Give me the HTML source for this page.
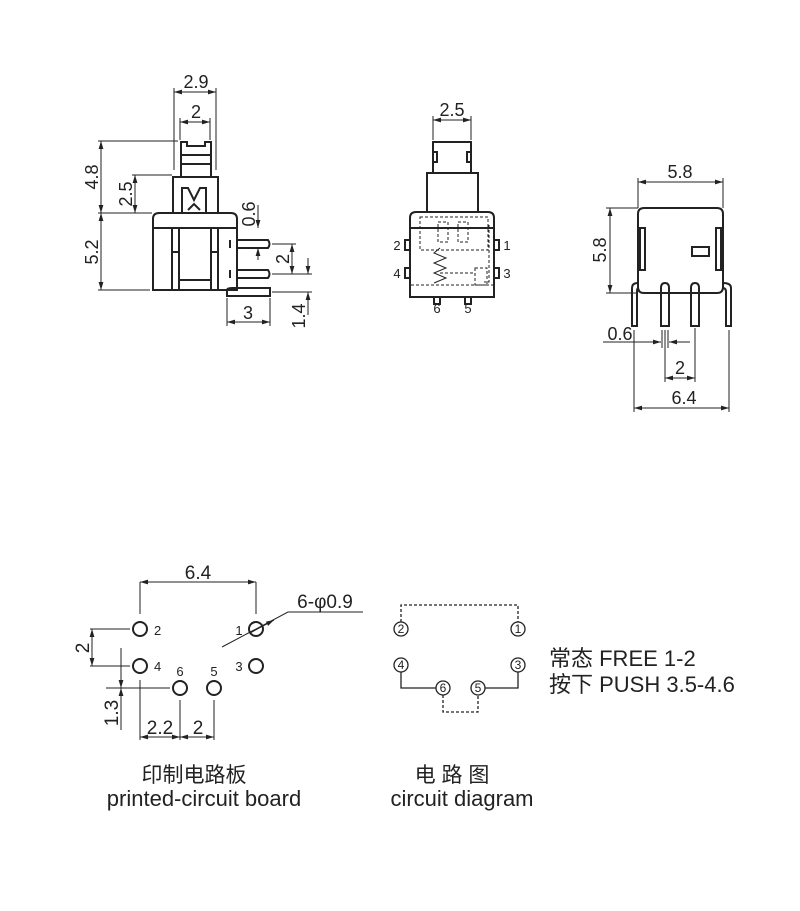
<!DOCTYPE html>
<html><head><meta charset="utf-8"><style>
html,body{margin:0;padding:0;background:#fff;}
svg{display:block}
text{font-family:"Liberation Sans","Noto Sans CJK SC",sans-serif;fill:#222}
</style></head><body>
<svg width="800" height="911" viewBox="0 0 800 911" xmlns="http://www.w3.org/2000/svg">
<defs>
<marker id="a" viewBox="0 0 10 6" refX="10" refY="3" markerWidth="8" markerHeight="5" orient="auto-start-reverse"><path d="M0,0L10,3L0,6z" fill="#222"/></marker>
</defs>
<g stroke="#222" fill="none">
<g stroke-width="2">
<path d="M181,177 V142 H187 V146 H205 V142 H211 V177"/>
<line x1="181" y1="155" x2="211" y2="155"/><line x1="181" y1="164" x2="211" y2="164"/>
<rect x="173" y="177" width="45" height="36"/>
<path d="M182,213 V188 H188 L194,200 L200,188 H206 V213"/>
<path d="M188,210 L194,204 L200,210"/>
<path d="M153,290 V219 Q153,213 159,213 H231 Q237,213 237,219 V290 Z"/>
<line x1="153" y1="228" x2="237" y2="228"/>
<path d="M172,228 V290 M179,228 V290 M211,228 V290 M218,228 V290 M179,280 H211 M172,252 H179 M211,252 H218"/>
<path d="M237,240 H268 Q271,244 268,248 H237 M230,240 V248"/>
<path d="M237,270 H268 Q271,274 268,278 H237 M230,270 V278"/>
<path d="M227,296 V290 Q227,288 232,288 H270 V296 Z"/>
</g>
<g stroke-width="1">
<line x1="174" y1="88" x2="174" y2="170"/><line x1="216" y1="88" x2="216" y2="170"/>
<line x1="174" y1="92" x2="216" y2="92" marker-start="url(#a)" marker-end="url(#a)"/>
<line x1="180" y1="118" x2="180" y2="140"/><line x1="210" y1="118" x2="210" y2="140"/>
<line x1="180" y1="122" x2="210" y2="122" marker-start="url(#a)" marker-end="url(#a)"/>
<line x1="98" y1="141" x2="178" y2="141"/><line x1="98" y1="213" x2="152" y2="213"/><line x1="98" y1="290" x2="150" y2="290"/>
<line x1="101" y1="141" x2="101" y2="213" marker-start="url(#a)" marker-end="url(#a)"/>
<line x1="101" y1="213" x2="101" y2="290" marker-start="url(#a)" marker-end="url(#a)"/>
<line x1="132" y1="175" x2="172" y2="175"/>
<line x1="135" y1="175" x2="135" y2="213" marker-start="url(#a)" marker-end="url(#a)"/>
<line x1="258" y1="205" x2="258" y2="228" marker-end="url(#a)"/>
<line x1="258" y1="260" x2="258" y2="248" marker-end="url(#a)"/>
<line x1="272" y1="244" x2="296" y2="244"/><line x1="272" y1="274" x2="312" y2="274"/><line x1="272" y1="292" x2="312" y2="292"/>
<line x1="292" y1="244" x2="292" y2="274" marker-start="url(#a)" marker-end="url(#a)"/>
<line x1="308" y1="258" x2="308" y2="274" marker-end="url(#a)"/>
<line x1="308" y1="315" x2="308" y2="292" marker-end="url(#a)"/>
<line x1="227" y1="298" x2="227" y2="326"/><line x1="270" y1="298" x2="270" y2="326"/>
<line x1="227" y1="322" x2="270" y2="322" marker-start="url(#a)" marker-end="url(#a)"/>
</g>
<g stroke-width="2">
<path d="M433,173 V142 H471 V173 M433,152 H437 V162 H433 M471,152 H467 V162 H471"/>
<rect x="427" y="173" width="51" height="39"/>
<path d="M410,297 V218 Q410,212 416,212 H488 Q494,212 494,218 V297 Z"/>
<line x1="410" y1="228" x2="494" y2="228"/>
<rect x="405" y="240" width="5" height="10"/><rect x="405" y="268" width="5" height="10"/>
<rect x="494" y="240" width="5" height="10"/><rect x="494" y="268" width="5" height="10"/>
<rect x="434" y="297" width="6" height="7"/><rect x="465" y="297" width="6" height="7"/>
</g>
<g stroke-width="1" stroke-dasharray="3,2">
<rect x="420" y="217" width="68" height="33"/>
<rect x="438" y="222" width="10" height="20"/><rect x="458" y="222" width="10" height="20"/>
<path d="M489,225 V282 H484"/>
<rect x="475" y="268" width="12" height="17"/>
<line x1="440" y1="273" x2="475" y2="273"/>
<line x1="411" y1="285" x2="493" y2="285"/>
</g>
<path d="M440,248 L434,253 L446,258 L434,263 L446,268 L434,273 L446,278 L434,283" stroke-width="1"/>
<g stroke-width="1">
<line x1="433" y1="116" x2="433" y2="140"/><line x1="471" y1="116" x2="471" y2="140"/>
<line x1="433" y1="120" x2="471" y2="120" marker-start="url(#a)" marker-end="url(#a)"/>
</g>
<g stroke-width="2">
<path d="M638,287 V214 Q638,208 644,208 H717 Q723,208 723,214 V287 Q723,293 717,293 H644 Q638,293 638,287 Z"/>
<rect x="640" y="228" width="5" height="42"/><rect x="716" y="228" width="5" height="42"/>
<rect x="692" y="247" width="17" height="9"/>
<path d="M632,326 V288 Q632,283 638,283 V288 Q637,288 637,292 V326 Z"/>
<path d="M731,326 V288 Q731,283 723,283 V288 Q726,288 726,292 V326 Z"/>
<path d="M661,326 V288 Q661,283 665,283 Q669,283 669,288 V326 Z"/>
<path d="M691,326 V288 Q691,283 695,283 Q699,283 699,288 V326 Z"/>
</g>
<g stroke-width="1">
<line x1="638" y1="178" x2="638" y2="208"/><line x1="723" y1="178" x2="723" y2="208"/>
<line x1="638" y1="182" x2="723" y2="182" marker-start="url(#a)" marker-end="url(#a)"/>
<line x1="606" y1="208" x2="638" y2="208"/><line x1="606" y1="293" x2="638" y2="293"/>
<line x1="610" y1="208" x2="610" y2="293" marker-start="url(#a)" marker-end="url(#a)"/>
<line x1="603" y1="342" x2="661" y2="342" marker-end="url(#a)"/>
<line x1="690" y1="342" x2="669" y2="342" marker-end="url(#a)"/>
<line x1="662" y1="330" x2="662" y2="348"/><line x1="665" y1="330" x2="665" y2="382"/><line x1="668" y1="330" x2="668" y2="348"/>
<line x1="695" y1="328" x2="695" y2="382"/>
<line x1="665" y1="378" x2="695" y2="378" marker-start="url(#a)" marker-end="url(#a)"/>
<line x1="634" y1="330" x2="634" y2="412"/><line x1="729" y1="330" x2="729" y2="412"/>
<line x1="634" y1="408" x2="729" y2="408" marker-start="url(#a)" marker-end="url(#a)"/>
</g>
<g stroke-width="2">
<circle cx="140" cy="629" r="7"/><circle cx="140" cy="666" r="7"/>
<circle cx="180" cy="688" r="7"/><circle cx="214" cy="688" r="7"/>
<circle cx="256" cy="629" r="7"/><circle cx="256" cy="666" r="7"/>
</g>
<g stroke-width="1">
<line x1="140" y1="582" x2="140" y2="614"/><line x1="256" y1="582" x2="256" y2="614"/>
<line x1="140" y1="582" x2="256" y2="582" marker-start="url(#a)" marker-end="url(#a)"/>
<path d="M363,612 H288 L222,647"/>
<line x1="250" y1="633" x2="274" y2="620" marker-end="url(#a)"/>
<line x1="90" y1="629" x2="130" y2="629"/><line x1="90" y1="666" x2="130" y2="666"/>
<line x1="92" y1="629" x2="92" y2="666" marker-start="url(#a)" marker-end="url(#a)"/>
<line x1="106" y1="688" x2="170" y2="688"/>
<line x1="121" y1="648" x2="121" y2="688" marker-end="url(#a)"/>
<line x1="121" y1="730" x2="121" y2="688" marker-end="url(#a)"/>
<line x1="140" y1="680" x2="140" y2="740"/><line x1="180" y1="700" x2="180" y2="740"/><line x1="214" y1="700" x2="214" y2="740"/>
<line x1="140" y1="737" x2="180" y2="737" marker-start="url(#a)" marker-end="url(#a)"/>
<line x1="180" y1="737" x2="214" y2="737" marker-start="url(#a)" marker-end="url(#a)"/>
</g>
<g stroke-width="1.3">
<circle cx="401" cy="629" r="7"/><circle cx="518" cy="629" r="7"/>
<circle cx="401" cy="665" r="7"/><circle cx="518" cy="665" r="7"/>
<circle cx="443" cy="688" r="7"/><circle cx="478" cy="688" r="7"/>
<path d="M401,672 V688 H436 M485,688 H518 V672"/>
<path d="M401,622 V605 H518 V622 M443,695 V712 H478 V695" stroke-dasharray="3,2"/>
</g>
</g>
<g font-size="18">
<text x="196" y="88" text-anchor="middle">2.9</text>
<text x="196" y="118" text-anchor="middle">2</text>
<text transform="translate(98,177) rotate(-90)" text-anchor="middle">4.8</text>
<text transform="translate(98,252) rotate(-90)" text-anchor="middle">5.2</text>
<text transform="translate(132,194) rotate(-90)" text-anchor="middle">2.5</text>
<text transform="translate(255,214) rotate(-90)" text-anchor="middle">0.6</text>
<text transform="translate(289,259) rotate(-90)" text-anchor="middle">2</text>
<text transform="translate(305,316) rotate(-90)" text-anchor="middle">1.4</text>
<text x="248" y="319" text-anchor="middle">3</text>
<text x="452" y="116" text-anchor="middle">2.5</text>
<text x="680" y="178" text-anchor="middle">5.8</text>
<text transform="translate(606,250) rotate(-90)" text-anchor="middle">5.8</text>
<text x="620" y="340" text-anchor="middle">0.6</text>
<text x="680" y="374" text-anchor="middle">2</text>
<text x="684" y="404" text-anchor="middle">6.4</text>
</g>
<g font-size="13">
<text x="397" y="250" text-anchor="middle">2</text><text x="397" y="278" text-anchor="middle">4</text>
<text x="507" y="250" text-anchor="middle">1</text><text x="507" y="278" text-anchor="middle">3</text>
<text x="437" y="313" text-anchor="middle">6</text><text x="468" y="313" text-anchor="middle">5</text>
</g>
<g font-size="19">
<text x="198" y="579" text-anchor="middle">6.4</text>
<text x="325" y="608" text-anchor="middle">6-φ0.9</text>
<text transform="translate(89,648) rotate(-90)" text-anchor="middle">2</text>
<text transform="translate(118,713) rotate(-90)" text-anchor="middle">1.3</text>
<text x="160" y="734" text-anchor="middle">2.2</text>
<text x="198" y="734" text-anchor="middle">2</text>
</g>
<g font-size="13">
<text x="154" y="635">2</text><text x="154" y="671">4</text>
<text x="239" y="635" text-anchor="middle">1</text><text x="239" y="671" text-anchor="middle">3</text>
<text x="180" y="676" text-anchor="middle">6</text><text x="214" y="676" text-anchor="middle">5</text>
</g>
<g font-size="12" text-anchor="middle">
<text x="401" y="633">2</text><text x="518" y="633">1</text>
<text x="401" y="669">4</text><text x="518" y="669">3</text>
<text x="443" y="692">6</text><text x="478" y="692">5</text>
</g>
<g font-size="22">
<text x="549" y="666">常态 FREE 1-2</text>
<text x="549" y="692">按下 PUSH 3.5-4.6</text>
<text x="194" y="782" text-anchor="middle" font-size="21">印制电路板</text>
<text x="204" y="806" text-anchor="middle">printed-circuit board</text>
<text x="452" y="782" text-anchor="middle" font-size="21">电 路 图</text>
<text x="462" y="806" text-anchor="middle">circuit diagram</text>
</g>
</svg>
</body></html>
